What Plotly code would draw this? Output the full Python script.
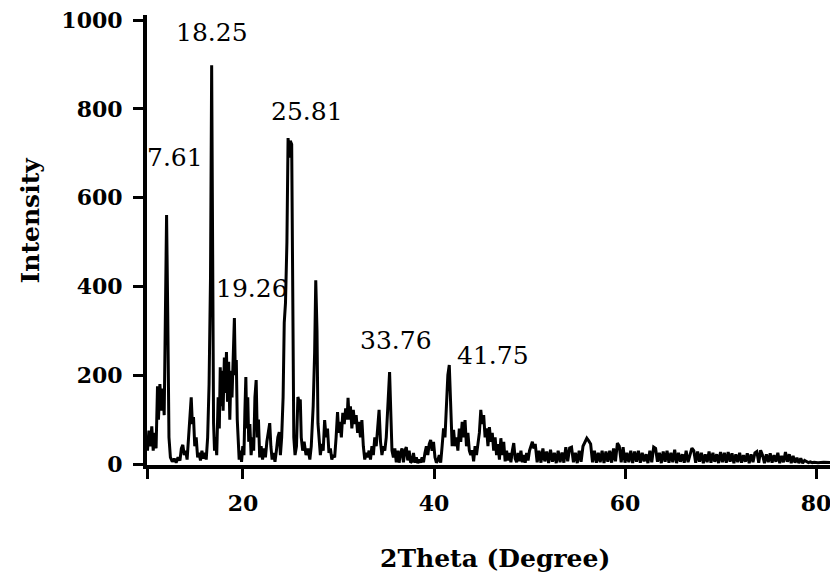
import plotly.graph_objects as go

# ---- XRD pattern (2theta in degrees, intensity) ----
theta_a = [10.0, 10.15, 10.3, 10.45, 10.6, 10.75, 10.9, 11.05, 11.15, 11.3, 11.45, 11.6, 11.75, 11.88,
           12.0, 12.12, 12.25, 12.4]
counts_a = [30, 75, 40, 85, 30, 70, 35, 175, 100, 180, 120, 170, 110, 330,
            561, 340, 60, 15]

theta_b = [12.6, 12.8, 13.0, 13.2, 13.4, 13.55, 13.7, 13.85, 14.0, 14.15, 14.3, 14.45, 14.58, 14.7,
           14.82, 14.95, 15.1, 15.25, 15.4, 15.55, 15.7, 15.85, 16.0, 16.15, 16.3,
           16.45, 16.6, 16.72, 16.82, 16.92, 17.02, 17.12]
counts_b = [5, 12, 3, 15, 8, 35, 43, 20, 30, 10, 60, 110, 150, 90,
            106, 40, 60, 15, 25, 8, 30, 12, 25, 10, 60,
            180, 420, 898, 400, 92, 30, 60]

theta_c = [17.25, 17.4, 17.52, 17.62, 17.72, 17.82, 17.92, 18.05, 18.15, 18.27, 18.38, 18.5, 18.62,
           18.75, 18.85, 18.98, 19.1, 19.2, 19.3, 19.4, 19.5, 19.6, 19.72, 19.85, 19.98, 20.1,
           20.2, 20.3, 20.4, 20.5, 20.6, 20.72, 20.85, 21.0, 21.12, 21.25, 21.38, 21.5, 21.62,
           21.75, 21.9, 22.05, 22.2, 22.35, 22.5, 22.65, 22.8, 22.92, 23.05, 23.2, 23.35, 23.5,
           23.65, 23.8, 23.92, 24.05]
counts_c = [20, 150, 80, 218, 130, 210, 120, 240, 160, 252, 140, 230, 100,
            210, 150, 230, 329, 200, 234, 100, 40, 10, 30, 5, 40, 20,
            120, 196, 80, 150, 50, 90, 20, 60, 30, 150, 189, 60, 100,
            15, 40, 10, 35, 15, 50, 70, 92, 40, 10, 25, 5, 30,
            60, 72, 20, 60]

theta_d = [24.2, 24.32, 24.45, 24.6, 24.72, 24.85, 24.95, 25.1, 25.22, 25.32, 25.45, 25.6, 25.75,
           25.88, 26.0, 26.1, 26.25, 26.4, 26.6, 26.8, 27.0, 27.15, 27.35, 27.5, 27.62, 27.75,
           27.85, 27.95, 28.1, 28.25, 28.4, 28.55, 28.7, 28.85, 29.0, 29.15, 29.3, 29.45, 29.6,
           29.75, 29.9, 30.02, 30.15, 30.3, 30.45, 30.6, 30.75, 30.9, 31.0, 31.12, 31.25, 31.4,
           31.55, 31.7, 31.85, 32.0, 32.15, 32.3, 32.45, 32.6, 32.75, 32.9, 33.05, 33.2, 33.35,
           33.5, 33.65, 33.8, 33.95, 34.1, 34.25, 34.4, 34.55, 34.7, 34.85, 35.0, 35.15, 35.35,
           35.5, 35.6]
counts_d = [150, 318, 363, 500, 734, 690, 728, 720, 300, 60, 20, 40, 151,
            140, 145, 60, 30, 50, 20, 35, 10, 40, 130, 250, 414, 300,
            92, 60, 20, 45, 30, 99, 60, 80, 25, 35, 10, 20, 15,
            60, 117, 70, 95, 60, 115, 90, 125, 100, 149, 100, 130, 80,
            122, 90, 110, 70, 95, 60, 99, 40, 10, 25, 15, 30, 10,
            40, 20, 60, 40, 80, 122, 50, 20, 40, 30, 60, 120, 207,
            100, 30]

theta_e = [35.75, 35.9, 36.05, 36.2, 36.35, 36.5, 36.65, 36.8, 36.95, 37.1, 37.25, 37.4, 37.55,
           37.7, 37.85, 38.0, 38.15, 38.3, 38.45, 38.6, 38.75, 38.9, 39.05, 39.2, 39.35, 39.5,
           39.65, 39.8, 39.95, 40.1, 40.25, 40.4, 40.55, 40.7, 40.85, 41.0, 41.15, 41.3, 41.45,
           41.6, 41.75, 41.9, 42.05, 42.2, 42.35, 42.5, 42.65, 42.8, 42.95, 43.1, 43.25, 43.4,
           43.55, 43.7, 43.85, 44.0, 44.15, 44.3, 44.45, 44.6, 44.75, 44.9, 45.05, 45.2, 45.35,
           45.5, 45.65, 45.8, 45.95, 46.1, 46.25, 46.4, 46.55, 46.7, 46.85, 47.0, 47.15, 47.3,
           47.45, 47.6, 47.75, 47.9, 48.05, 48.2, 48.35, 48.5, 48.65, 48.8, 48.95, 49.1, 49.25,
           49.4, 49.55, 49.7, 49.85, 50.0, 50.15, 50.3, 50.45, 50.6]
counts_e = [15, 35, 4, 30, 3, 25, 35, 4, 30, 38, 8, 30, 3,
            6, 25, 3, 15, 2, 10, 3, 15, 4, 25, 40, 20, 45,
            54, 30, 50, 15, 3, 8, 20, 3, 40, 80, 60, 144, 200,
            223, 150, 40, 77, 40, 60, 30, 80, 50, 95, 60, 99, 40,
            70, 30, 20, 31, 6, 40, 20, 50, 70, 122, 90, 110, 60,
            80, 40, 83, 50, 70, 30, 60, 20, 45, 10, 58, 20, 50,
            6, 30, 8, 25, 4, 30, 47, 12, 4, 25, 6, 30, 4,
            20, 3, 25, 8, 30, 40, 50, 35, 45]

theta_f = [50.8, 51.0, 51.2, 51.4, 51.6, 51.8, 52.0, 52.2, 52.4, 52.6,
           52.8, 53.0, 53.2, 53.4, 53.6, 53.8, 54.0, 54.2, 54.4, 54.6,
           54.8, 55.0, 55.2, 55.4, 55.6, 55.8, 56.0, 56.2, 56.4, 56.6,
           56.8, 57.0, 57.2, 57.4, 57.6, 57.8, 58.0, 58.2, 58.4, 58.6,
           58.8, 59.0, 59.2, 59.4, 59.6, 59.8, 60.0, 60.2, 60.4, 60.6,
           60.8, 61.0, 61.2, 61.4, 61.6, 61.8, 62.0, 62.2, 62.4, 62.6,
           62.8, 63.0, 63.2, 63.4, 63.6, 63.8, 64.0, 64.2, 64.4, 64.6,
           64.8, 65.0, 65.2, 65.4, 65.6, 65.8, 66.0, 66.2, 66.4, 66.6,
           66.8, 67.0, 67.2, 67.4, 67.6, 67.8, 68.0, 68.2, 68.4, 68.6,
           68.8, 69.0, 69.2, 69.4, 69.6, 69.8, 70.0, 70.2, 70.4, 70.6,
           70.8, 71.0, 71.2, 71.4, 71.6, 71.8, 72.0, 72.2, 72.4, 72.6,
           72.8, 73.0, 73.2, 73.4, 73.6, 73.8, 74.0, 74.2, 74.4, 74.6,
           74.8, 75.0, 75.2, 75.4, 75.6, 75.8, 76.0, 76.2, 76.4, 76.6,
           76.8, 77.0, 77.2, 77.4, 77.6, 77.8, 78.0, 78.2, 78.4, 78.6,
           78.8, 79.0, 79.2, 79.4, 79.6, 79.8, 80.2, 80.8, 81.5, 82.3]
counts_f = [4, 30, 3, 35, 6, 28, 2, 32, 5, 25,
            2, 30, 4, 26, 3, 38, 6, 36, 38, 4,
            25, 2, 30, 5, 40, 50, 58, 52, 45, 4,
            30, 3, 25, 4, 30, 2, 28, 5, 30, 3,
            35, 6, 47, 40, 4, 38, 3, 25, 4, 30,
            2, 28, 5, 30, 3, 25, 6, 22, 2, 30,
            4, 38, 35, 5, 25, 2, 28, 5, 30, 3,
            25, 4, 32, 2, 25, 5, 22, 3, 30, 4,
            22, 36, 30, 3, 28, 5, 25, 2, 22, 4,
            28, 3, 25, 5, 22, 2, 27, 4, 25, 3,
            27, 5, 24, 2, 22, 4, 25, 3, 20, 5,
            24, 2, 22, 4, 25, 28, 3, 31, 20, 2,
            22, 4, 24, 3, 20, 5, 25, 2, 18, 4,
            27, 5, 22, 2, 18, 3, 14, 2, 13, 2,
            8, 6, 3, 5, 3, 4, 3, 4, 3, 3]

# peak labels
label_text = ["7.61", "18.25", "19.26", "25.81", "33.76", "41.75"]
label_x = [12.9, 16.75, 20.94, 26.7, 36.0, 46.2]
label_y = [691, 971, 396, 793, 279, 245]

x_tick_vals = [10, 20, 40, 60, 80]
x_tick_text = ["", "20", "40", "60", "80"]
y_tick_vals = [0, 200, 400, 600, 800, 1000]

two_theta = theta_a + theta_b + theta_c + theta_d + theta_e + theta_f
intensity = counts_a + counts_b + counts_c + counts_d + counts_e + counts_f

SERIF = "DejaVu Serif"

fig = go.Figure()
fig.add_trace(go.Scatter(x=two_theta, y=intensity, mode="lines",
                         line=dict(color="black", width=3), showlegend=False,
                         hoverinfo="x+y"))

for t, xv, yv in zip(label_text, label_x, label_y):
    fig.add_annotation(x=xv, y=yv, text=t, showarrow=False, xref="x", yref="y",
                       xanchor="center", yanchor="middle",
                       font=dict(family=SERIF, size=25, color="black"))

fig.add_annotation(x=-0.169, y=0.544, xref="paper", yref="paper", text="Intensity",
                   textangle=-90, showarrow=False, xanchor="center", yanchor="middle",
                   font=dict(family=SERIF, size=25, color="black", weight="bold"))
fig.add_annotation(x=0.504, y=-0.207, xref="paper", yref="paper", text="2Theta (Degree)",
                   showarrow=False, xanchor="center", yanchor="middle",
                   font=dict(family=SERIF, size=25, color="black", weight="bold"))

# the page body adds an 8px offset, so the figure is 8px smaller and margins shifted
fig.update_layout(
    width=830, height=573,
    margin=dict(l=139, r=0, t=7, b=116),
    paper_bgcolor="white", plot_bgcolor="white",
    xaxis=dict(range=[9.95, 82.3], showgrid=False, zeroline=False,
               showline=True, linecolor="black", linewidth=4,
               ticks="outside", ticklen=10, tickwidth=3, tickcolor="black",
               tickvals=x_tick_vals, ticktext=x_tick_text, ticklabelstandoff=6,
               ticklabeloverflow="allow",
               tickfont=dict(family=SERIF, size=22, color="black", weight="bold")),
    yaxis=dict(range=[-2.25, 1011.3], showgrid=False, zeroline=False,
               showline=True, linecolor="black", linewidth=4,
               ticks="outside", ticklen=10, tickwidth=3, tickcolor="black",
               tickvals=y_tick_vals, ticklabelstandoff=6,
               ticklabeloverflow="allow",
               tickfont=dict(family=SERIF, size=22, color="black", weight="bold")),
)

fig.write_html("out.html")
